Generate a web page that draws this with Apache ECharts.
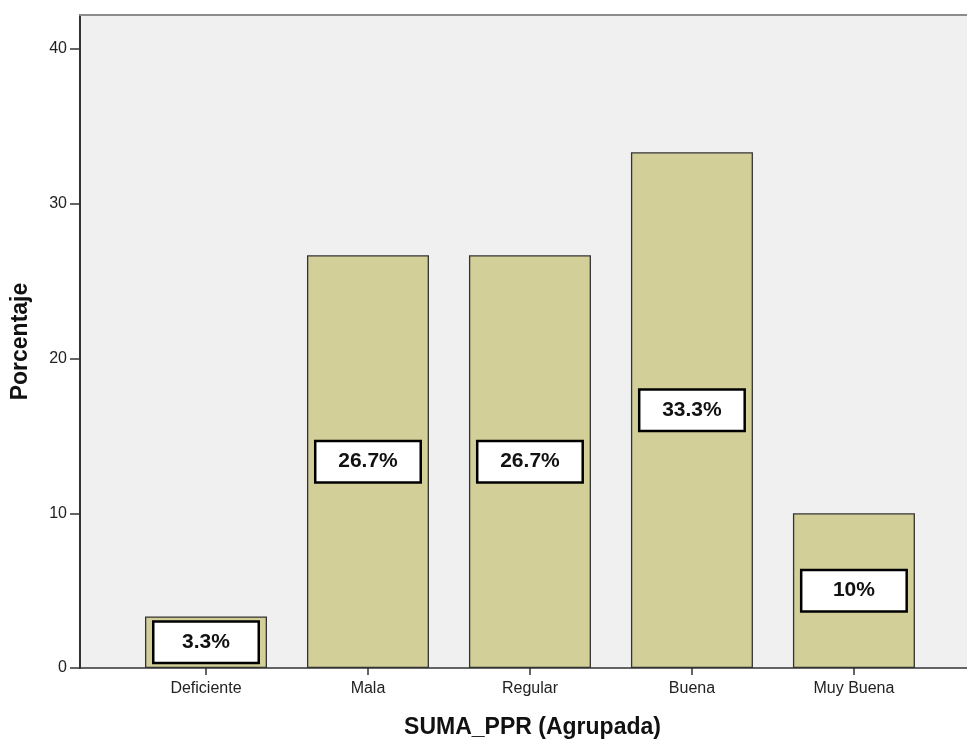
<!DOCTYPE html>
<html>
<head>
<meta charset="utf-8">
<script src="https://cdn.jsdelivr.net/npm/echarts@6/dist/echarts.min.js"></script>
<style>
    html, body { margin: 0; padding: 0; background: #fff; }
    #chart { width: 967px; height: 740px; }
</style>
</head>
<body>
<div id="chart"></div>
<script>
var categories = ['Deficiente', 'Mala', 'Regular', 'Buena', 'Muy Buena'];
var percentages = [3.33, 26.67, 26.67, 33.33, 10];
var yTicks = [0, 10, 20, 30, 40];

function barLabel(v) {
    var s = (Math.round(v * 10) / 10).toString();
    return s + '%';
}

var myChart = echarts.init(document.getElementById('chart'));

var positions = [];
for (var i = 0; i < categories.length; i++) {
    positions.push(i);
}

var option = {
    animation: false,
    grid: {
        left: 80,
        right: 0,
        top: 15,
        bottom: 72,
        outerBoundsMode: 'none',
        containLabel: false,
        show: true,
        backgroundColor: '#f0f0f0',
        borderWidth: 0
    },
    xAxis: [{
        type: 'value',
        min: -0.7778,
        max: 4.698,
        splitLine: { show: false },
        axisLine: { onZero: false, lineStyle: { color: '#333', width: 1.5 } },
        axisTick: {
            show: true,
            length: 7,
            customValues: positions,
            lineStyle: { color: '#333', width: 1.5 }
        },
        axisLabel: {
            customValues: positions,
            margin: 13,
            color: '#222',
            fontFamily: 'Liberation Sans, Arial',
            fontSize: 16,
            formatter: function (v) { return categories[Math.round(v)]; }
        },
        name: 'SUMA_PPR (Agrupada)',
        nameLocation: 'middle',
        nameGap: 48,
        nameTextStyle: {
            color: '#111',
            fontFamily: 'Liberation Sans, Arial',
            fontWeight: 'bold',
            fontSize: 23,
            padding: [0, 0, 0, 18]
        }
    }, {
        type: 'value',
        position: 'top',
        min: -0.7778,
        max: 4.698,
        splitLine: { show: false },
        axisTick: { show: false },
        axisLabel: { show: false },
        axisLine: { onZero: false, lineStyle: { color: '#8c8c8c', width: 2 } }
    }],
    yAxis: {
        type: 'value',
        min: 0,
        max: 42.2,
        interval: 10,
        splitLine: { show: false },
        axisLine: { show: true, onZero: false, lineStyle: { color: '#333', width: 2 } },
        axisTick: {
            show: true,
            length: 10,
            customValues: yTicks,
            lineStyle: { color: '#333', width: 1.5 }
        },
        axisLabel: {
            customValues: yTicks,
            margin: 13,
            color: '#222',
            fontFamily: 'Liberation Sans, Arial',
            fontSize: 16
        },
        name: 'Porcentaje',
        nameLocation: 'middle',
        nameGap: 48,
        nameTextStyle: {
            color: '#111',
            fontFamily: 'Liberation Sans, Arial',
            fontWeight: 'bold',
            fontSize: 23
        }
    },
    series: [{
        type: 'bar',
        xAxisIndex: 0,
        barWidth: 122,
        data: percentages.map(function (v, i) { return [i, v]; }),
        itemStyle: {
            color: '#d3cf99',
            borderColor: '#333',
            borderWidth: 1.3
        },
        label: {
            show: true,
            position: 'inside',
            formatter: function (p) { return barLabel(p.value[1]); },
            color: '#111',
            fontFamily: 'Liberation Sans, Arial',
            fontWeight: 'bold',
            fontSize: 21,
            backgroundColor: '#fff',
            borderColor: '#000',
            borderWidth: 2.5,
            width: 103,
            height: 39,
            lineHeight: 39,
            align: 'center',
            verticalAlign: 'middle'
        }
    }]
};

myChart.setOption(option);
</script>
</body>
</html>
